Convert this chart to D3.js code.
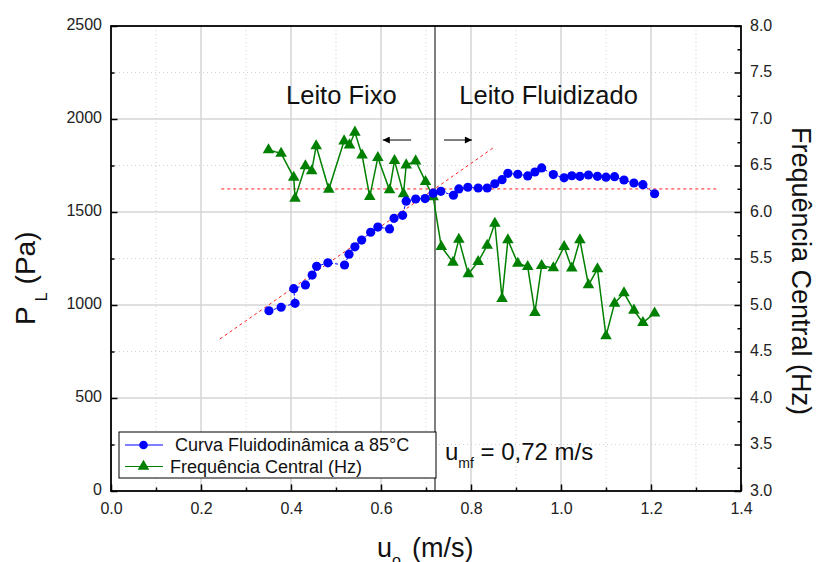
<!DOCTYPE html>
<html>
<head>
<meta charset="utf-8">
<script src="https://cdn.jsdelivr.net/npm/d3@7"></script>
<style>
  html, body { margin: 0; padding: 0; background: #fff; }
  svg { display: block; font-family: "Liberation Sans", Arial, Helvetica, sans-serif; }
</style>
</head>
<body>
<svg id="chart" width="816" height="562"></svg>
<script>
// ---- data ----
const velocity = [0.351,0.378,0.409,0.406,0.432,0.447,0.457,0.482,0.519,0.529,0.542,0.557,0.577,0.593,0.619,0.629,0.648,0.656,0.677,0.698,0.716,0.733,0.761,0.773,0.793,0.816,0.836,0.853,0.869,0.882,0.904,0.926,0.942,0.957,0.983,1.007,1.024,1.042,1.061,1.081,1.100,1.119,1.140,1.162,1.182,1.208];
const pressure = [969,988,1009,1088,1108,1161,1208,1227,1215,1273,1313,1349,1391,1419,1409,1466,1482,1558,1570,1572,1601,1611,1590,1624,1633,1629,1629,1652,1674,1708,1703,1694,1715,1737,1701,1684,1695,1692,1699,1692,1687,1690,1672,1656,1647,1598];
const freqX = [0.350,0.378,0.406,0.409,0.432,0.446,0.456,0.484,0.518,0.530,0.542,0.558,0.575,0.593,0.619,0.630,0.650,0.656,0.677,0.699,0.716,0.734,0.760,0.773,0.794,0.816,0.836,0.853,0.869,0.882,0.904,0.926,0.942,0.957,0.983,1.007,1.024,1.042,1.061,1.081,1.100,1.119,1.140,1.162,1.182,1.208];
const frequency = [6.667,6.631,6.373,6.147,6.495,6.441,6.710,6.244,6.763,6.720,6.857,6.610,6.165,6.584,6.237,6.552,6.194,6.505,6.548,6.326,6.161,5.627,5.459,5.706,5.333,5.466,5.640,5.878,5.068,5.699,5.448,5.412,4.917,5.423,5.398,5.627,5.395,5.699,5.215,5.387,4.667,5.018,5.129,4.943,4.810,4.911];
const plateauX = [0.245, 1.35];
const plateauY = [1624, 1624];
const slopeX = [0.242, 0.853];
const slopeY = [817, 1851];
const umf = 0.72;
const xTicks = [0,0.2,0.4,0.6,0.8,1.0,1.2,1.4];
const yLTicks = [0,500,1000,1500,2000,2500];
const yRTicks = [3.0,3.5,4.0,4.5,5.0,5.5,6.0,6.5,7.0,7.5,8.0];
const seriesNames = [" Curva Fluidodinâmica a 85°C", "Frequência Central (Hz)"];

// ---- layout ----
const L = 111, R = 741, T = 26, B = 491;
const svg = d3.select("#chart");
const x = d3.scaleLinear().domain([0, 1.4]).range([L, R]);
const yL = d3.scaleLinear().domain([0, 2500]).range([B, T]);
const yR = d3.scaleLinear().domain([3, 8]).range([B, T]);

// ---- grid ----
const grid = svg.append("g");
const xMinor = d3.range(1, 14).map(i => i / 10);
xMinor.forEach((v, i) => {
  const major = (i % 2 === 1);
  grid.append("line")
    .attr("x1", x(v)).attr("x2", x(v)).attr("y1", T).attr("y2", B)
    .attr("stroke", major ? "#d4d4d4" : "#cfcfcf")
    .attr("stroke-width", major ? 1.5 : 1)
    .attr("stroke-dasharray", major ? null : "1,3");
});
const yMinor = d3.range(1, 10).map(i => i * 250);
yMinor.forEach((v, i) => {
  const major = (i % 2 === 1);
  grid.append("line")
    .attr("x1", L).attr("x2", R).attr("y1", yL(v)).attr("y2", yL(v))
    .attr("stroke", major ? "#d4d4d4" : "#cfcfcf")
    .attr("stroke-width", major ? 1.5 : 1)
    .attr("stroke-dasharray", major ? null : "1,3");
});

// ---- reference lines ----
svg.append("line")
  .attr("x1", x(plateauX[0])).attr("x2", x(plateauX[1]))
  .attr("y1", yL(plateauY[0])).attr("y2", yL(plateauY[1]))
  .attr("stroke", "#ff2020").attr("stroke-width", 1).attr("stroke-dasharray", "3,3");
svg.append("line")
  .attr("x1", x(slopeX[0])).attr("x2", x(slopeX[1]))
  .attr("y1", yL(slopeY[0])).attr("y2", yL(slopeY[1]))
  .attr("stroke", "#ff2020").attr("stroke-width", 1).attr("stroke-dasharray", "3,3");

svg.append("line")
  .attr("x1", x(umf)).attr("x2", x(umf)).attr("y1", T).attr("y2", B)
  .attr("stroke", "#555").attr("stroke-width", 1.5);

// ---- series ----
const green = "#008000", blue = "#0000ff";
const gData = freqX.map((v, i) => [v, frequency[i]]);
svg.append("path")
  .datum(gData)
  .attr("fill", "none").attr("stroke", green).attr("stroke-width", 1.5)
  .attr("d", d3.line().x(d => x(d[0])).y(d => yR(d[1])));
const tri = d3.symbol().type(d3.symbolTriangle).size(58);
svg.append("g").selectAll("path").data(gData).join("path")
  .attr("d", tri)
  .attr("transform", d => `translate(${x(d[0])},${yR(d[1])})`)
  .attr("fill", green);

const bData = velocity.map((v, i) => [v, pressure[i]]);
svg.append("path")
  .datum(bData)
  .attr("fill", "none").attr("stroke", blue).attr("stroke-width", 1)
  .attr("stroke-dasharray", "3,2")
  .attr("d", d3.line().x(d => x(d[0])).y(d => yL(d[1])));
svg.append("g").selectAll("circle").data(bData).join("circle")
  .attr("cx", d => x(d[0])).attr("cy", d => yL(d[1])).attr("r", 4.6)
  .attr("fill", blue);

// ---- axes ----
function styleAxis(g) {
  g.select(".domain").remove();
  g.selectAll("line").attr("stroke", "#000").attr("stroke-width", 1.5);
  g.selectAll("text").attr("font-size", 16).attr("fill", "#222")
    .attr("font-family", "'Liberation Sans', Arial, sans-serif");
}
// minor ticks
svg.append("g").attr("transform", `translate(0,${B})`)
  .call(d3.axisBottom(x).tickValues(d3.range(1, 14, 2).map(i => i / 10)).tickSize(-3.5).tickFormat(""))
  .call(styleAxis);
svg.append("g").attr("transform", `translate(${L},0)`)
  .call(d3.axisLeft(yL).tickValues(d3.range(1, 10, 2).map(i => i * 250)).tickSize(-3.5).tickFormat(""))
  .call(styleAxis);
svg.append("g").attr("transform", `translate(${R},0)`)
  .call(d3.axisRight(yR).tickValues(d3.range(0, 10).map(i => 3.25 + i * 0.5)).tickSize(-3.5).tickFormat(""))
  .call(styleAxis);
// major
svg.append("g").attr("transform", `translate(0,${B})`)
  .call(d3.axisBottom(x).tickValues(xTicks).tickSize(-6.5).tickPadding(12).tickFormat(d3.format(".1f")))
  .call(styleAxis);
const gl = svg.append("g").attr("transform", `translate(${L},0)`)
  .call(d3.axisLeft(yL).tickValues(yLTicks).tickSize(-6.5).tickPadding(9).tickFormat(d3.format("d")))
  .call(styleAxis);
gl.selectAll("text").attr("dy", "0.2em");
const gr = svg.append("g").attr("transform", `translate(${R},0)`)
  .call(d3.axisRight(yR).tickValues(yRTicks).tickSize(-6.5).tickPadding(9).tickFormat(d3.format(".1f")))
  .call(styleAxis);
gr.selectAll("text").attr("dy", "0.25em");

// frame
svg.append("rect").attr("x", L).attr("y", T).attr("width", R - L).attr("height", B - T)
  .attr("fill", "none").attr("stroke", "#000").attr("stroke-width", 1.8);

// ---- axis titles ----
const yt = svg.append("text").attr("transform", `translate(35,325) rotate(-90)`)
  .attr("font-size", 28).attr("fill", "#111");
yt.append("tspan").text("P");
yt.append("tspan").attr("font-size", 16).attr("dx", 5).attr("dy", 12).text("L");
yt.append("tspan").attr("dx", 8).attr("dy", -12).text("(Pa)");

const xt = svg.append("text").attr("x", 377).attr("y", 556.5)
  .attr("font-size", 27).attr("fill", "#111");
xt.append("tspan").text("u");
xt.append("tspan").attr("font-size", 16).attr("dy", 9).text("o");
xt.append("tspan").attr("dx", 11).attr("dy", -9).text("(m/s)");

svg.append("text").attr("transform", `translate(792,127) rotate(90)`)
  .attr("font-size", 27).attr("fill", "#111").text("Frequência Central (Hz)");

// ---- annotations ----
svg.append("text").attr("x", x(0.389)).attr("y", yL(2081))
  .attr("font-size", 25.5).attr("fill", "#111").text("Leito Fixo");
svg.append("text").attr("x", x(0.774)).attr("y", yL(2081))
  .attr("font-size", 25.5).attr("fill", "#111").text("Leito Fluidizado");

const um = svg.append("text").attr("x", x(0.742)).attr("y", yL(166))
  .attr("font-size", 24).attr("fill", "#111");
um.append("tspan").text("u");
um.append("tspan").attr("font-size", 14).attr("dy", 8).text("mf");
um.append("tspan").attr("dy", -8).text(" = 0,72 m/s");

svg.append("defs").append("marker").attr("id", "ah")
  .attr("viewBox", "0 0 10 10").attr("refX", 10).attr("refY", 5)
  .attr("markerWidth", 9).attr("markerHeight", 7).attr("markerUnits", "userSpaceOnUse")
  .attr("orient", "auto")
  .append("path").attr("d", "M0,0 L10,5 L0,10 Z").attr("fill", "#000");
svg.append("line").attr("x1", x(0.667)).attr("x2", x(0.604))
  .attr("y1", yL(1887)).attr("y2", yL(1887))
  .attr("stroke", "#000").attr("stroke-width", 1).attr("marker-end", "url(#ah)");
svg.append("line").attr("x1", x(0.740)).attr("x2", x(0.802))
  .attr("y1", yL(1887)).attr("y2", yL(1887))
  .attr("stroke", "#000").attr("stroke-width", 1).attr("marker-end", "url(#ah)");

// ---- legend ----
const lg = svg.append("g");
lg.append("rect").attr("x", 119).attr("y", 432).attr("width", 317).attr("height", 46)
  .attr("fill", "#fff").attr("stroke", "#000").attr("stroke-width", 1);
[[blue, 445], [green, 466.5]].forEach(([c, yy], i) => {
  lg.append("line").attr("x1", 125).attr("x2", 163).attr("y1", yy).attr("y2", yy)
    .attr("stroke", c).attr("stroke-width", 1);
  if (i === 0) {
    lg.append("circle").attr("cx", 143.5).attr("cy", yy).attr("r", 4.3).attr("fill", c);
  } else {
    lg.append("path").attr("d", tri).attr("transform", `translate(143.5,${yy})`).attr("fill", c);
  }
  lg.append("text").attr("x", 170).attr("y", yy + 6.2)
    .attr("font-size", 18).attr("fill", "#111")
    .attr("xml:space", "preserve").style("white-space", "pre")
    .text(seriesNames[i]);
});
</script>
</body>
</html>
